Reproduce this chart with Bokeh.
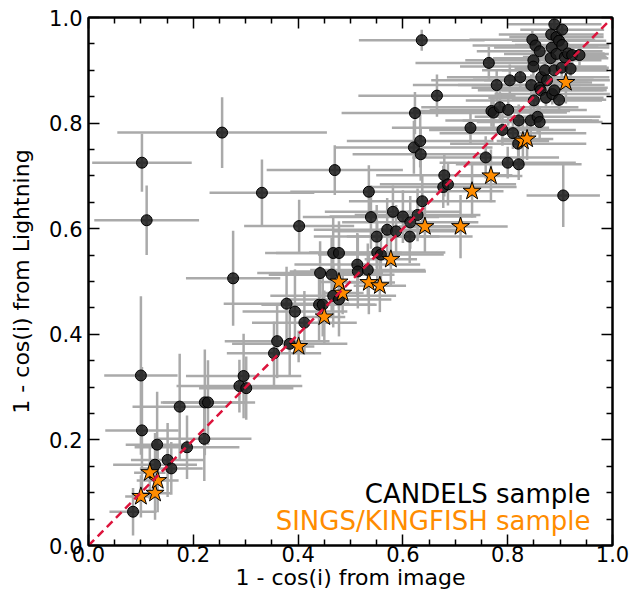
from bokeh.plotting import figure
from bokeh.models import (Range1d, LinearAxis, Label, ColumnDataSource, FixedTicker,
                          PrintfTickFormatter, CustomLabelingPolicy)
from bokeh.embed import file_html
from bokeh.resources import INLINE

# CANDELS sample: x = 1-cos(i) from image, y = 1-cos(i) from Lightning
cand_x = [0.085, 0.100, 0.102, 0.102, 0.111, 0.127, 0.131, 0.151, 0.158, 0.174,
          0.188, 0.221, 0.222, 0.228, 0.255, 0.276, 0.288, 0.296, 0.301, 0.331,
          0.354, 0.360, 0.378, 0.384, 0.394, 0.402, 0.412, 0.440, 0.442, 0.447,
          0.464, 0.467, 0.467, 0.470, 0.478, 0.478, 0.513, 0.514, 0.533, 0.535,
          0.539, 0.550, 0.551, 0.558, 0.570, 0.581, 0.587, 0.600, 0.613, 0.614,
          0.621, 0.623, 0.628, 0.633, 0.634, 0.636, 0.637, 0.665, 0.677, 0.679,
          0.686, 0.729, 0.758, 0.764, 0.779, 0.769, 0.773, 0.785, 0.790, 0.800,
          0.801, 0.804, 0.810, 0.820, 0.821, 0.821, 0.824, 0.844, 0.845, 0.847,
          0.849, 0.849, 0.850, 0.853, 0.857, 0.861, 0.861, 0.861, 0.863, 0.864,
          0.871, 0.873, 0.875, 0.882, 0.883, 0.884, 0.885, 0.889, 0.889, 0.889,
          0.893, 0.893, 0.898, 0.898, 0.903, 0.904, 0.904, 0.906, 0.909, 0.915,
          0.920, 0.923, 0.937]
cand_y = [0.064, 0.322, 0.218, 0.725, 0.616, 0.153, 0.191, 0.162, 0.146, 0.263,
          0.186, 0.202, 0.271, 0.271, 0.782, 0.506, 0.302, 0.321, 0.298, 0.668,
          0.364, 0.387, 0.458, 0.382, 0.443, 0.605, 0.422, 0.456, 0.516, 0.456,
          0.513, 0.473, 0.554, 0.711, 0.466, 0.554, 0.532, 0.519, 0.522, 0.670,
          0.622, 0.585, 0.555, 0.551, 0.598, 0.632, 0.595, 0.623, 0.585, 0.612,
          0.754, 0.819, 0.626, 0.766, 0.741, 0.957, 0.652, 0.852, 0.679, 0.701,
          0.684, 0.791, 0.735, 0.914, 0.872, 0.823, 0.820, 0.830, 0.787, 0.725,
          0.825, 0.881, 0.781, 0.761, 0.722, 0.805, 0.887, 0.805, 0.872, 0.958,
          0.919, 0.907, 0.843, 0.947, 0.812, 0.936, 0.802, 0.867, 0.862, 0.887,
          0.900, 0.848, 0.881, 0.923, 0.968, 0.943, 0.855, 0.987, 0.900, 0.862,
          0.963, 0.931, 0.956, 0.844, 0.905, 0.977, 0.948, 0.663, 0.925, 0.932,
          0.903, 0.929, 0.929]
cand_xerr = [0.045, 0.070, 0.070, 0.095, 0.100, 0.080, 0.060, 0.070, 0.060, 0.090,
             0.100, 0.090, 0.080, 0.090, 0.200, 0.090, 0.120, 0.110, 0.090, 0.100,
             0.090, 0.100, 0.120, 0.110, 0.100, 0.105, 0.100, 0.110, 0.120, 0.100,
             0.120, 0.120, 0.130, 0.130, 0.100, 0.120, 0.120, 0.130, 0.110, 0.150,
             0.130, 0.120, 0.130, 0.120, 0.140, 0.130, 0.120, 0.140, 0.120, 0.130,
             0.150, 0.140, 0.120, 0.140, 0.130, 0.120, 0.140, 0.150, 0.140, 0.130,
             0.130, 0.150, 0.140, 0.140, 0.160, 0.150, 0.140, 0.150, 0.140, 0.130,
             0.150, 0.150, 0.140, 0.130, 0.120, 0.140, 0.140, 0.130, 0.140, 0.120,
             0.130, 0.140, 0.130, 0.120, 0.120, 0.120, 0.120, 0.130, 0.120, 0.130,
             0.120, 0.110, 0.120, 0.110, 0.100, 0.110, 0.110, 0.090, 0.100, 0.100,
             0.090, 0.100, 0.090, 0.090, 0.090, 0.080, 0.090, 0.070, 0.080, 0.070,
             0.070, 0.060, 0.050]
cand_yerr = [0.045, 0.150, 0.120, 0.055, 0.066, 0.060, 0.100, 0.070, 0.050, 0.100,
             0.060, 0.080, 0.100, 0.080, 0.067, 0.090, 0.050, 0.080, 0.060, 0.063,
             0.060, 0.070, 0.070, 0.060, 0.080, 0.050, 0.060, 0.070, 0.060, 0.060,
             0.070, 0.060, 0.070, 0.047, 0.070, 0.060, 0.060, 0.070, 0.050, 0.050,
             0.060, 0.060, 0.060, 0.050, 0.060, 0.050, 0.050, 0.050, 0.050, 0.050,
             0.050, 0.040, 0.050, 0.050, 0.050, 0.020, 0.050, 0.040, 0.040, 0.040,
             0.040, 0.030, 0.040, 0.030, 0.030, 0.030, 0.030, 0.030, 0.030, 0.030,
             0.030, 0.030, 0.030, 0.030, 0.030, 0.030, 0.020, 0.030, 0.020, 0.020,
             0.020, 0.020, 0.030, 0.020, 0.030, 0.020, 0.030, 0.020, 0.020, 0.020,
             0.020, 0.020, 0.020, 0.020, 0.020, 0.020, 0.020, 0.010, 0.020, 0.020,
             0.020, 0.020, 0.020, 0.020, 0.020, 0.010, 0.020, 0.060, 0.020, 0.020,
             0.020, 0.020, 0.020]

# SINGS/KINGFISH sample
sings_x = [0.100, 0.127, 0.132, 0.117, 0.401, 0.450, 0.485, 0.478, 0.535, 0.556,
           0.577, 0.642, 0.710, 0.732, 0.768, 0.829, 0.837, 0.911]
sings_y = [0.093, 0.099, 0.123, 0.138, 0.377, 0.433, 0.478, 0.499, 0.498, 0.492,
           0.542, 0.604, 0.604, 0.671, 0.700, 0.766, 0.770, 0.877]
sings_xerr = [0.03, 0.03, 0.04, 0.03, 0.03, 0.04, 0.04, 0.04, 0.05, 0.05,
              0.05, 0.05, 0.09, 0.06, 0.06, 0.05, 0.05, 0.05]
sings_yerr = [0.04, 0.05, 0.06, 0.05, 0.03, 0.05, 0.04, 0.05, 0.06, 0.05,
              0.05, 0.05, 0.06, 0.05, 0.05, 0.04, 0.04, 0.04]

ticks = [0.0, 0.2, 0.4, 0.6, 0.8, 1.0]
minor = [0.05, 0.1, 0.15, 0.25, 0.3, 0.35, 0.45, 0.5, 0.55, 0.65, 0.7, 0.75, 0.85, 0.9, 0.95]
diag = [0.0, 1.0]

FONT = "DejaVu Sans"
ERR = "#aaaaaa"

p = figure(width=637, height=595, x_range=Range1d(0, 1), y_range=Range1d(0, 1),
           output_backend="svg", toolbar_location=None,
           min_border_left=88, min_border_right=25, min_border_top=17, min_border_bottom=50)
p.xgrid.visible = False
p.ygrid.visible = False
p.outline_line_color = "black"
p.outline_line_width = 2
p.background_fill_color = "white"
p.border_fill_color = "white"

def style_axis(ax, labels=True):
    ax.ticker = FixedTicker(ticks=ticks, minor_ticks=minor)
    ax.major_tick_in = 11
    ax.major_tick_out = 0
    ax.minor_tick_in = 6
    ax.minor_tick_out = 0
    ax.major_tick_line_width = 1.5
    ax.minor_tick_line_width = 1.5
    ax.major_tick_line_color = "black"
    ax.minor_tick_line_color = "black"
    ax.axis_line_width = 2
    ax.axis_line_color = "black"
    if labels:
        ax.formatter = PrintfTickFormatter(format="%.1f")
        ax.major_label_text_font = FONT
        ax.major_label_text_font_size = "21px"
        ax.major_label_text_color = "black"
        ax.axis_label_text_font = FONT
        ax.axis_label_text_font_size = "22px"
        ax.axis_label_text_font_style = "normal"
        ax.axis_label_text_color = "black"
    else:
        ax.major_label_policy = CustomLabelingPolicy(
            code="const n = indices.size; for (let i = 0; i < n; i++) { indices.unset(i) } return indices")
        ax.major_label_standoff = 0

style_axis(p.xaxis[0])
style_axis(p.yaxis[0])
p.xaxis[0].axis_label = "1 - cos(i) from image"
p.yaxis[0].axis_label = "1 - cos(i) from Lightning"
p.xaxis[0].major_label_standoff = 0
p.xaxis[0].axis_label_standoff = 0
p.yaxis[0].major_label_standoff = 6
p.yaxis[0].axis_label_standoff = 12

top = LinearAxis()
style_axis(top, labels=False)
p.add_layout(top, "above")
right = LinearAxis()
style_axis(right, labels=False)
p.add_layout(right, "right")

cs = ColumnDataSource(dict(
    x=cand_x, y=cand_y,
    x0=[a - b for a, b in zip(cand_x, cand_xerr)], x1=[a + b for a, b in zip(cand_x, cand_xerr)],
    y0=[a - b for a, b in zip(cand_y, cand_yerr)], y1=[a + b for a, b in zip(cand_y, cand_yerr)]))
ss = ColumnDataSource(dict(
    x=sings_x, y=sings_y,
    x0=[a - b for a, b in zip(sings_x, sings_xerr)], x1=[a + b for a, b in zip(sings_x, sings_xerr)],
    y0=[a - b for a, b in zip(sings_y, sings_yerr)], y1=[a + b for a, b in zip(sings_y, sings_yerr)]))

for src in (cs, ss):
    p.segment(x0="x0", y0="y", x1="x1", y1="y", source=src, line_color=ERR, line_width=2.5)
    p.segment(x0="x", y0="y0", x1="x", y1="y1", source=src, line_color=ERR, line_width=2.5)

p.scatter(x="x", y="y", source=cs, marker="circle", size=11,
          fill_color="#1a1a1a", fill_alpha=0.85, line_color="black", line_width=1)
p.scatter(x="x", y="y", source=ss, marker="star", size=19,
          fill_color="#ff8c00", line_color="black", line_width=1)

p.line(diag, diag, line_color="#dc143c", line_width=2.5, line_dash="8 5")

p.add_layout(Label(x=0.958, y=0.098, text="CANDELS sample", text_align="right",
                   text_baseline="alphabetic", text_font=FONT, text_font_size="26px",
                   text_color="black"))
p.add_layout(Label(x=0.958, y=0.047, text="SINGS/KINGFISH sample", text_align="right",
                   text_baseline="alphabetic", text_font=FONT, text_font_size="26px",
                   text_color="#ff8c00"))

open("out.html", "w").write(file_html(p, INLINE))
